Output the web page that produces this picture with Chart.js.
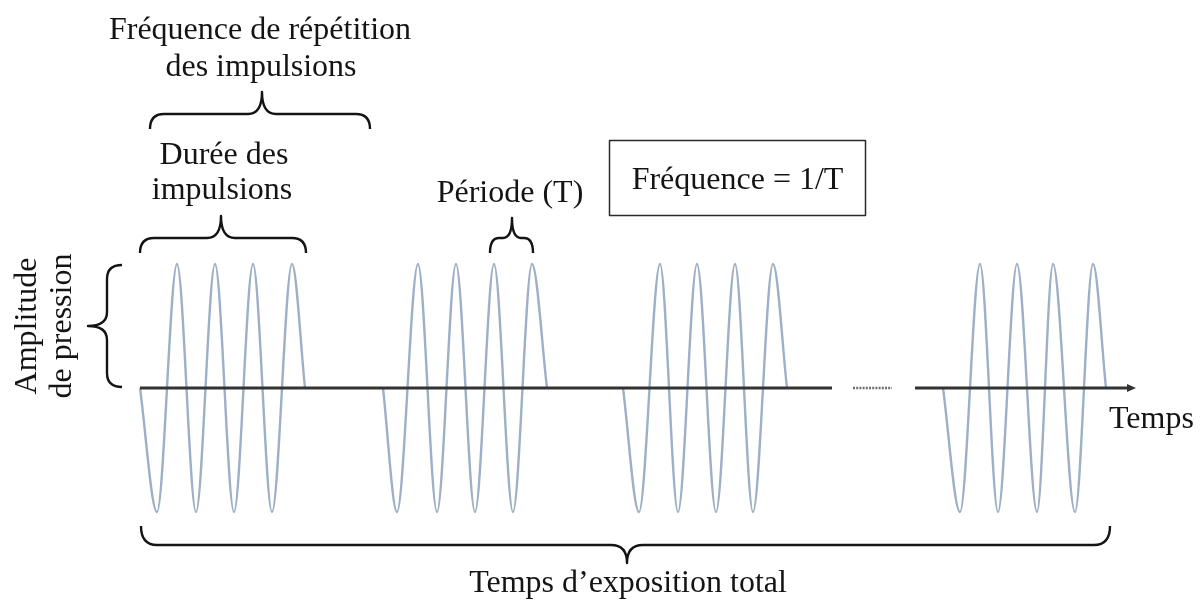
<!DOCTYPE html>
<html>
<head>
<meta charset="utf-8">
<script src="https://cdn.jsdelivr.net/npm/chart.js@4.4.1/dist/chart.umd.min.js"></script>
<style>
  html, body { margin: 0; padding: 0; background: #ffffff; }
  #wrap { width: 1201px; height: 605px; }
</style>
</head>
<body>
<div id="wrap"><canvas id="c" width="1201" height="605"></canvas></div>
<script>
// ---- data (time units along the axis, amplitude units ±1) ----
// each burst: start of pulse, alternating trough / peak times, end of pulse
const burst1Times = [140, 157, 177, 196, 215, 234, 253, 272, 292, 305];
const burst2Times = [383, 397, 418, 437, 456, 475, 494, 513, 532, 547];
const burst3Times = [623, 639, 660, 678, 697, 716, 735, 753, 773, 787];
const burst4Times = [943, 960, 980, 998, 1017, 1037, 1053, 1075, 1093, 1106];
const burstAmplitudes = [0, -1, 1, -1, 1, -1, 1, -1, 1, 0];

// time axis segments: solid, dotted, solid with arrow
const axisSolid1 = [140, 832];
const axisDotted = [853, 892];
const axisSolid2 = [915, 1136];

// labels
const labelTopLines = ['Fréquence de répétition', 'des impulsions'];
const labelDureeLines = ['Durée des', 'impulsions'];
const labelPeriode = 'Période (T)';
const labelFreqBox = 'Fréquence = 1/T';
const labelAmpLines = ['Amplitude', 'de pression'];
const labelTemps = 'Temps';
const labelTotal = 'Temps d’exposition total';

// ---- styles / layout ----
const WAVE_COLOR = '#9db0c6';
const INK = '#141414';
const AXIS_COLOR = '#333333';
const FONT_FAMILY = '"Liberation Serif", "Times New Roman", serif';
const FONT_SIZE = 32;
const X_MIN = 0, X_MAX = 1201;
const Y_MAX = 3.129, Y_MIN = -1.75;

function toPoints(times) {
  return times.map((t, i) => ({ x: t, y: burstAmplitudes[i] }));
}

const datasets = [burst1Times, burst2Times, burst3Times, burst4Times].map((times, i) => ({
  label: 'Impulsion ' + (i + 1),
  data: toPoints(times),
  borderColor: WAVE_COLOR,
  borderWidth: 2.4,
  pointRadius: 0,
  fill: false,
  cubicInterpolationMode: 'monotone'
}));

function brace(ctx, o) {
  const r = o.r;
  ctx.beginPath();
  ctx.moveTo(o.x1, o.yEnd);
  ctx.quadraticCurveTo(o.x1, o.yMid, o.x1 + r, o.yMid);
  ctx.lineTo(o.xt - r, o.yMid);
  ctx.quadraticCurveTo(o.xt, o.yMid, o.xt, o.yTip);
  ctx.quadraticCurveTo(o.xt, o.yMid, o.xt + r, o.yMid);
  ctx.lineTo(o.x2 - r, o.yMid);
  ctx.quadraticCurveTo(o.x2, o.yMid, o.x2, o.yEnd);
  ctx.stroke();
}
function vbrace(ctx, o) {
  const r = o.r;
  ctx.beginPath();
  ctx.moveTo(o.xEnd, o.y1);
  ctx.quadraticCurveTo(o.xMid, o.y1, o.xMid, o.y1 + r);
  ctx.lineTo(o.xMid, o.yt - r);
  ctx.quadraticCurveTo(o.xMid, o.yt, o.xTip, o.yt);
  ctx.quadraticCurveTo(o.xMid, o.yt, o.xMid, o.yt + r);
  ctx.lineTo(o.xMid, o.y2 - r);
  ctx.quadraticCurveTo(o.xMid, o.y2, o.xEnd, o.y2);
  ctx.stroke();
}
function text(ctx, s, x, y, align) {
  ctx.textAlign = align || 'center';
  ctx.textBaseline = 'alphabetic';
  ctx.fillText(s, x, y);
}

const decorPlugin = {
  id: 'decor',
  afterDatasetsDraw(chart) {
    const ctx = chart.ctx;
    const xs = chart.scales.x, ys = chart.scales.y;
    const y0 = ys.getPixelForValue(0);
    ctx.save();
    // time axis
    ctx.strokeStyle = AXIS_COLOR;
    ctx.lineWidth = 3;
    ctx.lineCap = 'butt';
    ctx.beginPath();
    ctx.moveTo(xs.getPixelForValue(axisSolid1[0]), y0);
    ctx.lineTo(xs.getPixelForValue(axisSolid1[1]), y0);
    ctx.moveTo(xs.getPixelForValue(axisSolid2[0]), y0);
    ctx.lineTo(xs.getPixelForValue(axisSolid2[1]) - 7, y0);
    ctx.stroke();
    const ax = xs.getPixelForValue(axisSolid2[1]);
    ctx.fillStyle = AXIS_COLOR;
    ctx.beginPath();
    ctx.moveTo(ax, y0);
    ctx.lineTo(ax - 9, y0 - 4);
    ctx.lineTo(ax - 9, y0 + 4);
    ctx.closePath();
    ctx.fill();
    // dotted section
    ctx.strokeStyle = '#6f6f6f';
    ctx.lineWidth = 2.5;
    ctx.setLineDash([2, 1.2]);
    ctx.beginPath();
    ctx.moveTo(xs.getPixelForValue(axisDotted[0]), y0);
    ctx.lineTo(xs.getPixelForValue(axisDotted[1]), y0);
    ctx.stroke();
    ctx.setLineDash([]);

    // braces
    ctx.strokeStyle = INK;
    ctx.lineWidth = 2.4;
    ctx.lineJoin = 'round';
    brace(ctx, { x1: 150, x2: 370, xt: 262, yEnd: 129, yMid: 114, yTip: 92, r: 14 });
    brace(ctx, { x1: 140, x2: 306, xt: 221, yEnd: 253, yMid: 238, yTip: 216, r: 14 });
    brace(ctx, { x1: 490, x2: 533, xt: 512, yEnd: 253, yMid: 238, yTip: 218, r: 9 });
    brace(ctx, { x1: 141, x2: 1110, xt: 627, yEnd: 526, yMid: 545, yTip: 563, r: 16 });
    vbrace(ctx, { y1: 265, y2: 387, yt: 326, xEnd: 122, xMid: 107, xTip: 88, r: 14 });

    // texts
    ctx.fillStyle = INK;
    ctx.font = FONT_SIZE + 'px ' + FONT_FAMILY;
    text(ctx, labelTopLines[0], 260, 39);
    text(ctx, labelTopLines[1], 261, 76);
    text(ctx, labelDureeLines[0], 224, 164);
    text(ctx, labelDureeLines[1], 222, 199);
    text(ctx, labelPeriode, 510, 202);
    text(ctx, labelTemps, 1109, 428, 'left');
    text(ctx, labelTotal, 628, 592);

    // frequency box
    ctx.strokeStyle = '#2a2a2a';
    ctx.lineWidth = 1.5;
    ctx.strokeRect(609.5, 140.5, 256, 75);
    text(ctx, labelFreqBox, 737.5, 189);

    // rotated amplitude label
    ctx.save();
    ctx.translate(36, 326);
    ctx.rotate(-Math.PI / 2);
    text(ctx, labelAmpLines[0], 0, 0);
    ctx.restore();
    ctx.save();
    ctx.translate(71, 326);
    ctx.rotate(-Math.PI / 2);
    text(ctx, labelAmpLines[1], 0, 0);
    ctx.restore();

    ctx.restore();
  }
};

new Chart(document.getElementById('c'), {
  type: 'line',
  data: { datasets },
  options: {
    responsive: false,
    animation: false,
    layout: { padding: 0 },
    plugins: { legend: { display: false }, tooltip: { enabled: false }, title: { display: false } },
    scales: {
      x: { type: 'linear', display: false, min: X_MIN, max: X_MAX },
      y: { type: 'linear', display: false, min: Y_MIN, max: Y_MAX }
    }
  },
  plugins: [decorPlugin]
});
</script>
</body>
</html>
